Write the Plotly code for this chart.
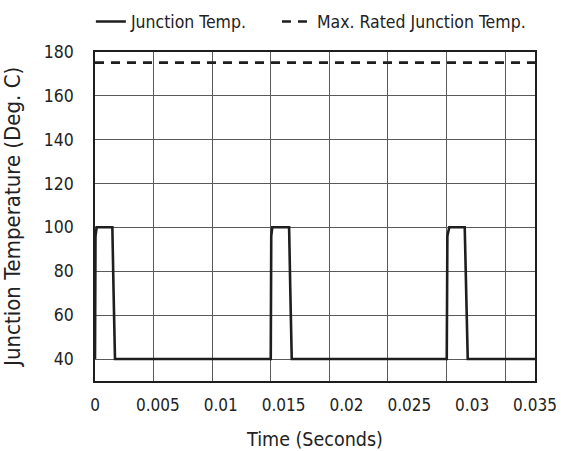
import plotly.graph_objects as go

# Data
time_s = [0.0, 0.00004, 0.00013, 0.00138, 0.00148, 0.00159,
          0.01398, 0.01402, 0.01410, 0.01544, 0.01554, 0.01565,
          0.02798, 0.02803, 0.02818, 0.02941, 0.02953, 0.02965, 0.035]
junction_temp = [40, 96, 100, 100, 70, 40,
                 40, 96, 100, 100, 70, 40,
                 40, 96, 100, 100, 70, 40, 40]
max_rated_time = [0.0, 0.035]
max_rated_temp = [175, 175]

series_names = ["Junction Temp.", "Max. Rated Junction Temp."]
x_ticks = [0, 0.005, 0.01, 0.015, 0.02, 0.025, 0.03, 0.035]
x_tick_labels = ["0", "0.005", "0.01", "0.015", "0.02", "0.025", "0.03", "0.035"]
y_ticks = [40, 60, 80, 100, 120, 140, 160, 180]
grid_divisions = [0, 1, 2, 3, 4, 5, 6, 7]

FONT = "DejaVu Sans Condensed"
INK = "#1e1e1e"
GRID = "#5a5a5a"
PAD = "\u00a0" * 5  # spacing between the two legend entries

fig = go.Figure()
fig.add_trace(go.Scatter(x=time_s, y=junction_temp, mode="lines", name=series_names[0] + PAD,
                         line=dict(color=INK, width=2.6)))
fig.add_trace(go.Scatter(x=max_rated_time, y=max_rated_temp, mode="lines",
                         name=series_names[1],
                         line=dict(color=INK, width=2.6, dash="9px,7px")))
fig.add_trace(go.Scatter(x=[0, 7.51], y=[40, 40], xaxis="x2", mode="lines",
                         line=dict(width=0), showlegend=False, hoverinfo="skip"))

fig.update_layout(
    width=561, height=451,
    margin=dict(l=95, r=26, t=42, b=70),
    paper_bgcolor="white", plot_bgcolor="white",
    font=dict(family=FONT, size=17.5, color="#222"),
    showlegend=True,
    legend=dict(orientation="h", xref="container", x=0.162, xanchor="left",
                yref="container", y=0.912, yanchor="bottom",
                font=dict(size=17.5), itemwidth=30, bgcolor="rgba(0,0,0,0)"),
    xaxis=dict(range=[0, 0.035], tickvals=x_ticks, ticktext=x_tick_labels,
               showgrid=False, zeroline=False, automargin=False,
               showline=True, linecolor=INK, linewidth=1.6, mirror=True,
               ticks="outside", ticklen=8, tickcolor="rgba(0,0,0,0)",
               tickfont=dict(size=17),
               title=dict(text="Time (Seconds)", standoff=24, font=dict(size=19.5))),
    xaxis2=dict(range=[0, 7.51], overlaying="x", side="bottom", tickvals=grid_divisions,
                showticklabels=False, showgrid=True, gridcolor=GRID, gridwidth=1.3,
                zeroline=False, showline=False, ticks=""),
    yaxis=dict(range=[30, 180], tickvals=y_ticks, showgrid=True, gridcolor=GRID,
               gridwidth=1.3, zeroline=False, automargin=False,
               showline=True, linecolor=INK, linewidth=1.6, mirror=True,
               ticks="outside", ticklen=16, tickcolor="rgba(0,0,0,0)",
               tickfont=dict(size=17.5),
               title=dict(text="Junction Temperature (Deg. C)", standoff=20, font=dict(size=22))),
)

fig.write_html("out.html", config={"displayModeBar": False},
               post_script="document.body.style.margin='0';document.documentElement.style.margin='0';")
